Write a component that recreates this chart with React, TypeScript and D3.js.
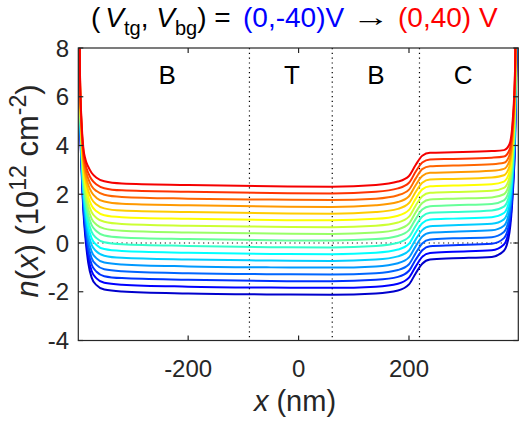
import React from 'react';
import * as d3 from 'd3';

const xGrid = [-399, -396, -393, -390, -386, -381, -375, -366, -352, -320, -200, -50, 60, 140, 180, 200, 212, 224, 238, 280, 350, 372, 382, 388, 392, 396];

// n(x) in 1e12 cm^-2 for each back-gate voltage, Vtg = 0
const nVbgM40 = [12.99, 5.49, 2.99, 1.39, 0.19, -0.81, -1.41, -1.73, -1.91, -1.99, -2.07, -2.11, -2.12, -2.07, -1.95, -1.70, -1.25, -0.85, -0.68, -0.63, -0.57, -0.32, 0.43, 2.03, 4.03, 8.93];
const nVbgM35 = [13.21, 5.59, 3.11, 1.55, 0.39, -0.56, -1.14, -1.45, -1.63, -1.71, -1.79, -1.83, -1.84, -1.79, -1.67, -1.42, -0.97, -0.57, -0.41, -0.36, -0.30, -0.06, 0.66, 2.22, 4.22, 9.17];
const nVbgM30 = [13.42, 5.68, 3.23, 1.71, 0.60, -0.32, -0.87, -1.18, -1.36, -1.44, -1.51, -1.56, -1.57, -1.51, -1.39, -1.14, -0.69, -0.30, -0.13, -0.09, -0.03, 0.20, 0.88, 2.41, 4.41, 9.41];
const nVbgM25 = [13.64, 5.78, 3.35, 1.87, 0.80, -0.07, -0.61, -0.90, -1.08, -1.16, -1.24, -1.28, -1.29, -1.24, -1.11, -0.87, -0.42, -0.02, 0.14, 0.19, 0.24, 0.45, 1.11, 2.60, 4.60, 9.66];
const nVbgM20 = [13.85, 5.88, 3.48, 2.03, 1.00, 0.18, -0.34, -0.63, -0.80, -0.88, -0.96, -1.00, -1.01, -0.96, -0.83, -0.59, -0.14, 0.26, 0.42, 0.46, 0.52, 0.71, 1.34, 2.79, 4.79, 9.90];
const nVbgM15 = [14.07, 5.97, 3.60, 2.18, 1.20, 0.42, -0.07, -0.35, -0.52, -0.61, -0.68, -0.72, -0.74, -0.68, -0.55, -0.31, 0.14, 0.53, 0.69, 0.73, 0.79, 0.97, 1.56, 2.98, 4.98, 10.14];
const nVbgM10 = [14.28, 6.07, 3.72, 2.34, 1.41, 0.67, 0.20, -0.08, -0.25, -0.33, -0.40, -0.45, -0.46, -0.40, -0.27, -0.03, 0.42, 0.81, 0.96, 1.00, 1.06, 1.23, 1.79, 3.17, 5.17, 10.38];
const nVbgM05 = [14.50, 6.16, 3.84, 2.50, 1.61, 0.91, 0.47, 0.20, 0.03, -0.05, -0.12, -0.17, -0.18, -0.12, 0.01, 0.25, 0.70, 1.09, 1.24, 1.27, 1.33, 1.49, 2.01, 3.36, 5.36, 10.62];
const nVbg0 = [14.71, 6.26, 3.96, 2.66, 1.81, 1.16, 0.74, 0.48, 0.31, 0.23, 0.16, 0.11, 0.10, 0.16, 0.29, 0.53, 0.98, 1.37, 1.51, 1.55, 1.60, 1.75, 2.24, 3.55, 5.55, 10.87];
const nVbgP05 = [14.93, 6.36, 4.08, 2.82, 2.01, 1.41, 1.00, 0.75, 0.59, 0.50, 0.43, 0.39, 0.37, 0.43, 0.56, 0.80, 1.25, 1.64, 1.78, 1.82, 1.87, 2.00, 2.47, 3.74, 5.74, 11.11];
const nVbgP10 = [15.14, 6.45, 4.20, 2.98, 2.22, 1.65, 1.27, 1.03, 0.87, 0.78, 0.71, 0.67, 0.65, 0.71, 0.84, 1.08, 1.53, 1.92, 2.06, 2.09, 2.14, 2.26, 2.69, 3.93, 5.93, 11.35];
const nVbgP15 = [15.36, 6.55, 4.32, 3.14, 2.42, 1.90, 1.54, 1.30, 1.14, 1.06, 0.99, 0.94, 0.93, 0.99, 1.12, 1.36, 1.81, 2.20, 2.33, 2.36, 2.41, 2.52, 2.92, 4.12, 6.12, 11.59];
const nVbgP20 = [15.57, 6.65, 4.45, 3.30, 2.62, 2.15, 1.81, 1.58, 1.42, 1.33, 1.27, 1.22, 1.20, 1.27, 1.40, 1.64, 2.09, 2.47, 2.61, 2.63, 2.69, 2.78, 3.15, 4.31, 6.31, 11.83];
const nVbgP25 = [15.79, 6.74, 4.57, 3.45, 2.82, 2.39, 2.08, 1.85, 1.70, 1.61, 1.55, 1.50, 1.48, 1.55, 1.68, 1.92, 2.37, 2.75, 2.88, 2.90, 2.96, 3.04, 3.37, 4.50, 6.50, 12.07];
const nVbgP30 = [16.00, 6.84, 4.69, 3.61, 3.03, 2.64, 2.34, 2.13, 1.98, 1.89, 1.82, 1.78, 1.76, 1.82, 1.96, 2.19, 2.64, 3.03, 3.15, 3.18, 3.23, 3.29, 3.60, 4.69, 6.69, 12.32];
const nVbgP35 = [16.22, 6.93, 4.81, 3.77, 3.23, 2.88, 2.61, 2.40, 2.25, 2.16, 2.10, 2.05, 2.03, 2.10, 2.24, 2.47, 2.92, 3.30, 3.43, 3.45, 3.50, 3.55, 3.82, 4.88, 6.88, 12.56];
const nVbgP40 = [16.43, 7.03, 4.93, 3.93, 3.43, 3.13, 2.88, 2.68, 2.53, 2.44, 2.38, 2.33, 2.31, 2.38, 2.52, 2.75, 3.20, 3.58, 3.70, 3.72, 3.77, 3.81, 4.05, 5.07, 7.07, 12.80];

const seriesValues = [nVbgM40, nVbgM35, nVbgM30, nVbgM25, nVbgM20, nVbgM15, nVbgM10, nVbgM05, nVbg0, nVbgP05, nVbgP10, nVbgP15, nVbgP20, nVbgP25, nVbgP30, nVbgP35, nVbgP40];
const seriesColors = ['#0000cc', '#0000ff', '#0033ff', '#0066ff', '#0099ff', '#00ccff', '#00ffff', '#33ffcc', '#66ff99', '#99ff66', '#ccff33', '#ffff00', '#ffcc00', '#ff9900', '#ff6600', '#ff3300', '#f50000'];

const xTicks = [-200, 0, 200];
const yTicks = [-4, -2, 0, 2, 4, 6, 8];
const regionBoundaries = [-89, 61, 219];
const regionNames = ['B', 'T', 'B', 'C'];
const regionCenters = [-238, -12, 140, 298];

const W = 525, H = 426;
const L = 78.3, R = 518.3, T = 48, B = 340.5;
const FONT = "'Liberation Sans', Arial, Helvetica, sans-serif";
const AX = '#262626';

export default function App() {
  const x = d3.scaleLinear().domain([-399, 398]).range([L, R]);
  const y = d3.scaleLinear().domain([-4, 8]).range([B, T]);
  const line = d3.line<number>()
    .x((_, i) => x(xGrid[i]))
    .y((d) => y(d))
    .curve(d3.curveMonotoneX);
  const tickLen = 5;
  return (
    <div style={{ position: 'absolute', left: 0, top: 0 }}>
      <svg width={W} height={H} style={{ display: 'block', background: '#fff' }} fontFamily={FONT}>
        <defs>
          <clipPath id="plotClip">
            <rect x={L} y={T} width={R - L} height={B - T} />
          </clipPath>
        </defs>
        <rect x={0} y={0} width={W} height={H} fill="#fff" />
        {/* dotted guides */}
        <g stroke="#000" strokeWidth={1.2} strokeDasharray="1.2,3.6" fill="none">
          <line x1={L} x2={R} y1={y(0)} y2={y(0)} />
          {regionBoundaries.map((b, i) => (
            <line key={i} x1={x(b)} x2={x(b)} y1={T} y2={B} />
          ))}
        </g>
        <g clipPath="url(#plotClip)" fill="none" strokeWidth={2} strokeLinejoin="round">
          {seriesValues.map((vals, i) => (
            <path key={i} d={line(vals) || ''} stroke={seriesColors[i]} />
          ))}
        </g>
        {/* axes box */}
        <rect x={L} y={T} width={R - L} height={B - T} fill="none" stroke={AX} strokeWidth={1.2} />
        <g stroke={AX} strokeWidth={1.2}>
          {xTicks.map((t) => (
            <g key={t}>
              <line x1={x(t)} x2={x(t)} y1={B} y2={B - tickLen} />
              <line x1={x(t)} x2={x(t)} y1={T} y2={T + tickLen} />
            </g>
          ))}
          {yTicks.map((t) => (
            <g key={t}>
              <line x1={L} x2={L + tickLen} y1={y(t)} y2={y(t)} />
              <line x1={R} x2={R - tickLen} y1={y(t)} y2={y(t)} />
            </g>
          ))}
        </g>
        <g fill={AX} fontSize={24}>
          {xTicks.map((t) => (
            <text key={t} x={x(t)} y={377} textAnchor="middle">{t}</text>
          ))}
          {yTicks.map((t) => (
            <text key={t} x={69} y={y(t) + 8.5} textAnchor="end">{t}</text>
          ))}
        </g>
        {/* region labels */}
        <g fill="#000" fontSize={26}>
          {regionNames.map((n, i) => (
            <text key={i} x={x(regionCenters[i])} y={84} textAnchor="middle">{n}</text>
          ))}
        </g>
        {/* x label */}
        <text x={295} y={411} textAnchor="middle" fontSize={29} fill={AX}>
          <tspan fontStyle="italic">x</tspan> (nm)
        </text>
        {/* y label */}
        <text transform="translate(38,191) rotate(-90)" textAnchor="middle" fontSize={31} fill={AX}>
          <tspan fontStyle="italic">n</tspan>(<tspan fontStyle="italic">x</tspan>) (10<tspan fontSize={23} dy={-12}>12</tspan><tspan dy={12}> cm</tspan><tspan fontSize={23} dy={-12}>-2</tspan><tspan dy={12}>)</tspan>
        </text>
        {/* title */}
        <text x={91} y={27} fontSize={28} fill="#000">
          (<tspan fontStyle="italic" dx={5}>V</tspan><tspan fontSize={20} dy={8}>tg</tspan><tspan dy={-8}>, </tspan><tspan fontStyle="italic">V</tspan><tspan fontSize={20} dy={8}>bg</tspan><tspan dy={-8}>) = </tspan>
        </text>
        <text x={243} y={27} fontSize={28} fill="#0000ff">(0,-40)V</text>
        <text x={0} y={0} fontSize={26} fill="#000" textAnchor="middle" transform="translate(371,26) scale(1.45,1)">→</text>
        <text x={398} y={27} fontSize={28} fill="#ff0000">(0,40) V</text>
      </svg>
    </div>
  );
}
